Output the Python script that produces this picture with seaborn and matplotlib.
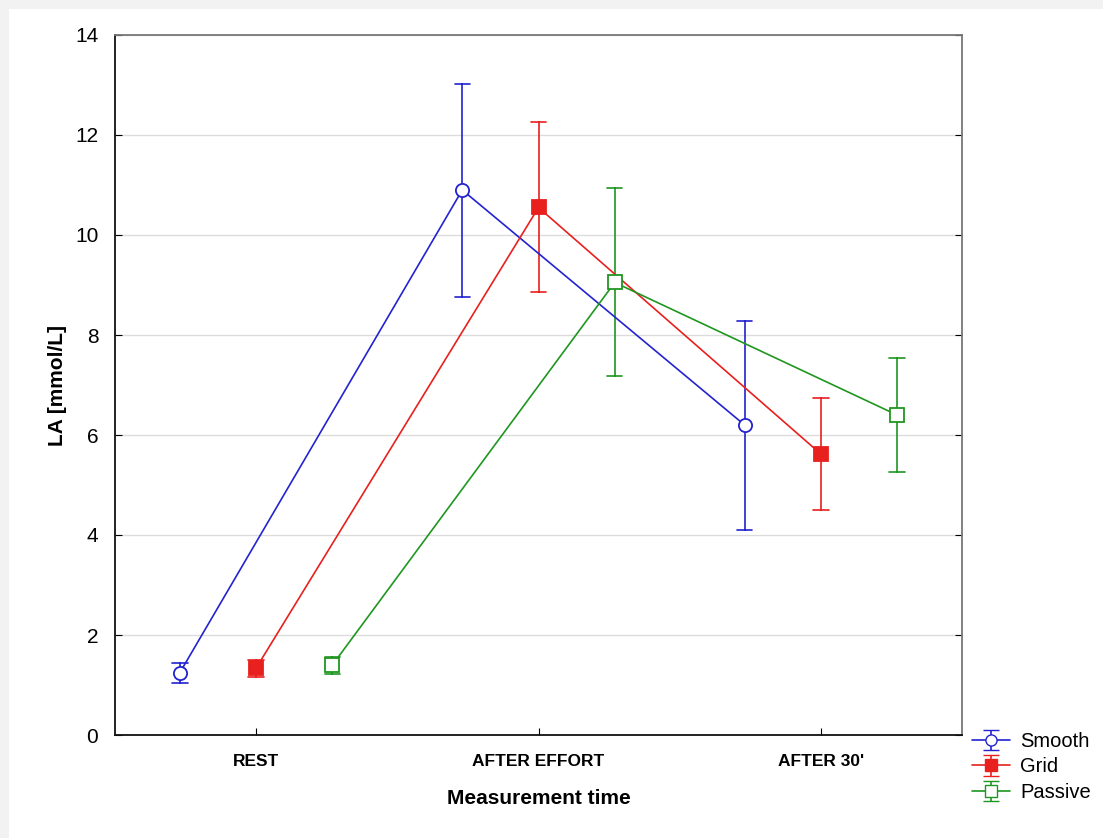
import numpy as np
import pandas as pd
import matplotlib
matplotlib.use("Agg")
import matplotlib.pyplot as plt
from matplotlib.colors import to_hex
from matplotlib.patches import Rectangle
import seaborn as sns

# values (mean and error bar ends)
times = ["REST", "AFTER EFFORT", "AFTER 30'"]
groups = ["Smooth", "Grid", "Passive"]

smooth_mean = [1.25, 10.9, 6.2]
smooth_low = [1.05, 8.75, 4.1]
smooth_high = [1.45, 13.02, 8.28]

grid_mean = [1.34, 10.55, 5.62]
grid_low = [1.17, 8.85, 4.5]
grid_high = [1.5, 12.25, 6.74]

passive_mean = [1.4, 9.05, 6.4]
passive_low = [1.22, 7.18, 5.27]
passive_high = [1.57, 10.93, 7.53]

colors = {"Smooth": "#2323d0", "Grid": "#e8201e", "Passive": "#1f9620"}
markers = {"Smooth": "o", "Grid": "s", "Passive": "s"}
filled = {"Smooth": False, "Grid": True, "Passive": False}

# long form: low / mean / high per cell -> median gives mean, 100% interval gives the bar
rows = []
for g, lo, mu, hi in [("Smooth", smooth_low, smooth_mean, smooth_high),
                      ("Grid", grid_low, grid_mean, grid_high),
                      ("Passive", passive_low, passive_mean, passive_high)]:
    for t, a, b, c in zip(times, lo, mu, hi):
        for v in (a, b, c):
            rows.append({"time": t, "group": g, "LA": v})
df = pd.DataFrame(rows)

sns.set_style("white")
plt.rcParams["font.family"] = ["Liberation Sans", "DejaVu Sans"]
plt.rcParams["text.color"] = "black"
plt.rcParams["xtick.color"] = "black"
plt.rcParams["ytick.color"] = "black"
plt.rcParams["axes.labelcolor"] = "black"

fig = plt.figure(figsize=(11.03, 8.38), dpi=100)
fig.patch.set_facecolor("#f2f2f2")
fig.add_artist(Rectangle((9 / 1103, 0), 1, 1 - 9 / 838, transform=fig.transFigure,
                         facecolor="white", edgecolor="none", zorder=-5))
ax = fig.add_axes([115 / 1103, 103 / 838, 847 / 1103, 700 / 838])

sns.pointplot(data=df, x="time", y="LA", hue="group",
              order=times, hue_order=groups,
              palette=colors, markers=[markers[g] for g in groups],
              estimator="median", errorbar=("pi", 100),
              dodge=0.54, capsize=0.055, legend=False, ax=ax,
              linewidth=1.2, err_kws={"linewidth": 1.2},
              markersize=9.5)

# open markers for Smooth and Passive
for line in ax.lines:
    m = line.get_marker()
    if m in ("o", "s"):
        c = to_hex(line.get_color())
        if c in (colors["Smooth"], colors["Passive"]):
            line.set_markerfacecolor("white")
        line.set_markeredgewidth(1.3)
        line.set_zorder(4)

ax.set_ylim(0, 14)
ax.set_xlim(-0.5, 2.5)
ax.set_yticks(np.arange(0, 15, 2))
ax.yaxis.grid(True, color="#dcdcdc", linewidth=1)
ax.set_axisbelow(True)
for s in ax.spines.values():
    s.set_color("#111111")
    s.set_linewidth(1.3)
ax.spines["top"].set_color("#777777")
ax.spines["right"].set_color("#777777")

ax.tick_params(axis="y", direction="in", left=True, right=True, length=5,
               labelsize=15, pad=12)
ax.tick_params(axis="x", direction="in", bottom=True, length=5, pad=14)
for lab in ax.get_xticklabels():
    lab.set_fontweight("bold")
    lab.set_fontsize(12.5)

ax.set_xlabel("Measurement time", fontsize=15, fontweight="bold", labelpad=14)
ax.set_ylabel("LA [mmol/L]", fontsize=15, fontweight="bold", labelpad=6)

# legend with error-bar style symbols
handles = []
for g in groups:
    h = ax.errorbar([np.nan], [np.nan], yerr=[1], fmt=markers[g] + "-",
                    color=colors[g], mfc=colors[g] if filled[g] else "white",
                    mec=colors[g], ms=8, capsize=6, lw=1.2)
    handles.append(h)
fig.legend(handles, groups, loc="upper left", bbox_to_anchor=(964 / 1103, 1 - 724 / 838),
           frameon=False, fontsize=14.5, handlelength=1.9, handletextpad=0.5,
           labelspacing=0.32, borderaxespad=0)

fig.savefig("out.png", dpi=100, facecolor=fig.get_facecolor())
